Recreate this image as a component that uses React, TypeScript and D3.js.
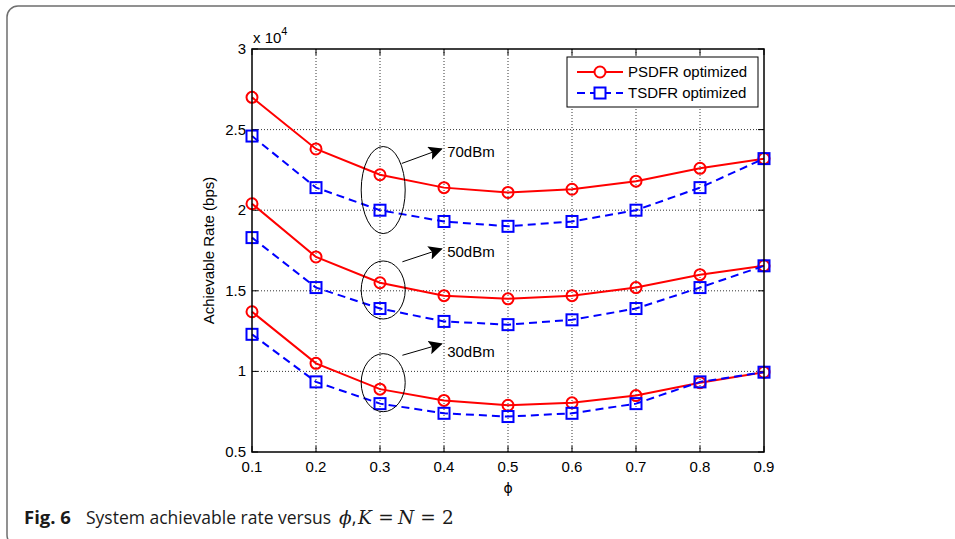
import React from "react";
import * as d3 from "d3";

const width = 955;
const height = 539;

// phi values on the x axis
const phi = [0.1, 0.2, 0.3, 0.4, 0.5, 0.6, 0.7, 0.8, 0.9];

// achievable rate, x 10^4 bps
const psdfr70 = [2.7, 2.38, 2.22, 2.14, 2.11, 2.13, 2.18, 2.26, 2.32];
const tsdfr70 = [2.46, 2.14, 2.0, 1.93, 1.9, 1.93, 2.0, 2.14, 2.32];
const psdfr50 = [2.04, 1.71, 1.55, 1.47, 1.45, 1.47, 1.52, 1.6, 1.655];
const tsdfr50 = [1.83, 1.52, 1.39, 1.31, 1.29, 1.32, 1.39, 1.52, 1.655];
const psdfr30 = [1.37, 1.05, 0.89, 0.82, 0.79, 0.805, 0.85, 0.93, 0.995];
const tsdfr30 = [1.23, 0.935, 0.8, 0.74, 0.72, 0.74, 0.8, 0.935, 0.995];

const xTicks = [0.1, 0.2, 0.3, 0.4, 0.5, 0.6, 0.7, 0.8, 0.9];
const yTicks = [0.5, 1, 1.5, 2, 2.5, 3];

// power level annotations (ellipse around the phi=0.3 points, arrow to label)
const powerLabels = ["70dBm", "50dBm", "30dBm"];
const ellipseY = [2.125, 1.505, 0.93];
const ellipseRy = [0.27, 0.18, 0.18];
const arrowFrom = [[0.334, 2.29], [0.335, 1.68], [0.335, 1.1]];
const arrowTo = [[0.396, 2.38], [0.396, 1.76], [0.396, 1.17]];
const labelAt = [[0.405, 2.36], [0.405, 1.74], [0.405, 1.12]];

// caption math part after the comma: glyph, centre x, italic
const captionMath: [string, number, boolean][] = [
  ["K", 365, true],
  ["=", 386, false],
  ["N", 406, true],
  ["=", 428, false],
  ["2", 448, false],
];

const margin = { left: 252, right: 191, top: 49, bottom: 87 };
const font = "'Liberation Sans', Arial, sans-serif";
const capFont = "'Open Sans', 'Noto Sans', sans-serif";
const mathFont = "'DejaVu Serif', serif";

const App = () => {
  const x = d3.scaleLinear().domain([0.1, 0.9]).range([margin.left, width - margin.right]);
  const y = d3.scaleLinear().domain([0.5, 3]).range([height - margin.bottom, margin.top]);
  const [x0, x1] = x.range();
  const [y0, y1] = y.range();

  const line = d3
    .line<number>()
    .x((_, i) => x(phi[i]))
    .y((d) => y(d));

  const red = "#ff0000";
  const blue = "#0000ff";
  const psdfr = [psdfr70, psdfr50, psdfr30];
  const tsdfr = [tsdfr70, tsdfr50, tsdfr30];

  return (
    <div style={{ position: "absolute", left: 0, top: 0 }}>
      <svg width={width} height={height} style={{ display: "block", background: "#fff" }}>
        <defs>
          <marker id="head" viewBox="0 0 10 10" refX="9" refY="5" markerWidth="14" markerHeight="14" markerUnits="userSpaceOnUse" orient="auto">
            <path d="M0,0 L10,5 L0,10 L2,5 z" fill="#000" />
          </marker>
        </defs>

        {/* figure frame, runs off the right and bottom edges */}
        <rect x={7} y={6} width={width + 20} height={540} rx={11} fill="none" stroke="#6e6e6e" strokeWidth={1.5} />

        {/* grid */}
        {xTicks.slice(1, -1).map((t) => (
          <line key={"gx" + t} x1={x(t)} x2={x(t)} y1={y0} y2={y1} stroke="#000" strokeWidth={0.8} strokeDasharray="1,2" />
        ))}
        {yTicks.slice(1, -1).map((t) => (
          <line key={"gy" + t} x1={x0} x2={x1} y1={y(t)} y2={y(t)} stroke="#000" strokeWidth={0.8} strokeDasharray="1,2" />
        ))}

        {/* ticks inside, on all four sides */}
        {xTicks.map((t) => (
          <g key={"tx" + t}>
            <line x1={x(t)} x2={x(t)} y1={y0} y2={y0 - 6} stroke="#000" />
            <line x1={x(t)} x2={x(t)} y1={y1} y2={y1 + 6} stroke="#000" />
            <text x={x(t)} y={y0 + 20} textAnchor="middle" fontFamily={font} fontSize={15} fill="#000">
              {t}
            </text>
          </g>
        ))}
        {yTicks.map((t) => (
          <g key={"ty" + t}>
            <line x1={x0} x2={x0 + 6} y1={y(t)} y2={y(t)} stroke="#000" />
            <line x1={x1} x2={x1 - 6} y1={y(t)} y2={y(t)} stroke="#000" />
            <text x={x0 - 6} y={y(t) + 5} textAnchor="end" fontFamily={font} fontSize={15} fill="#000">
              {t}
            </text>
          </g>
        ))}
        <text x={x0 + 1} y={43} fontFamily={font} fontSize={15} fill="#000">
          x 10
          <tspan dy={-8} fontSize={11}>4</tspan>
        </text>

        {/* series */}
        {psdfr.map((s, k) => (
          <g key={"p" + k}>
            <path d={line(s) ?? ""} fill="none" stroke={red} strokeWidth={2} />
            {s.map((v, i) => (
              <circle key={i} cx={x(phi[i])} cy={y(v)} r={5.5} fill="none" stroke={red} strokeWidth={2} />
            ))}
          </g>
        ))}
        {tsdfr.map((s, k) => (
          <g key={"t" + k}>
            <path d={line(s) ?? ""} fill="none" stroke={blue} strokeWidth={2} strokeDasharray="8,5" />
            {s.map((v, i) => (
              <rect key={i} x={x(phi[i]) - 5.5} y={y(v) - 5.5} width={11} height={11} fill="none" stroke={blue} strokeWidth={2} />
            ))}
          </g>
        ))}

        {/* annotations */}
        {powerLabels.map((lab, k) => (
          <g key={lab}>
            <ellipse
              cx={x(0.305)}
              cy={y(ellipseY[k])}
              rx={22}
              ry={y(0.5) - y(0.5 + ellipseRy[k])}
              fill="none"
              stroke="#000"
              strokeWidth={1}
            />
            <line
              x1={x(arrowFrom[k][0])}
              y1={y(arrowFrom[k][1])}
              x2={x(arrowTo[k][0])}
              y2={y(arrowTo[k][1])}
              stroke="#000"
              strokeWidth={1}
              markerEnd="url(#head)"
            />
            <text x={x(labelAt[k][0])} y={y(labelAt[k][1]) + 5} fontFamily={font} fontSize={15} fill="#000">
              {lab}
            </text>
          </g>
        ))}

        {/* axes box */}
        <rect x={x0} y={y1} width={x1 - x0} height={y0 - y1} fill="none" stroke="#000" strokeWidth={1.5} />

        {/* legend */}
        <g transform="translate(567,57)">
          <rect width={191} height={50} fill="#fff" stroke="#000" strokeWidth={1} />
          <line x1={10} x2={56} y1={15} y2={15} stroke={red} strokeWidth={2} />
          <circle cx={33} cy={15} r={5.5} fill="#fff" stroke={red} strokeWidth={2} />
          <text x={61} y={20} fontFamily={font} fontSize={15} fill="#000">PSDFR optimized</text>
          <line x1={10} x2={56} y1={36} y2={36} stroke={blue} strokeWidth={2} strokeDasharray="8,5" />
          <rect x={27.5} y={30.5} width={11} height={11} fill="#fff" stroke={blue} strokeWidth={2} />
          <text x={61} y={41} fontFamily={font} fontSize={15} fill="#000">TSDFR optimized</text>
        </g>

        {/* axis labels */}
        <text
          transform={`translate(214,${(y0 + y1) / 2}) rotate(-90)`}
          textAnchor="middle"
          fontFamily={font}
          fontSize={15}
          fill="#000"
        >
          Achievable Rate (bps)
        </text>
        <text x={(x0 + x1) / 2} y={493} textAnchor="middle" fontFamily="'DejaVu Sans', sans-serif" fontSize={14} fill="#000">
          ϕ
        </text>

        {/* caption */}
        <g fill="#1a1a1a">
          <text x={24} y={524} fontFamily={capFont} fontSize={18.5} fontWeight="bold">Fig. 6</text>
          <text x={86} y={524} fontFamily={capFont} fontSize={17.5}>
            System achievable rate versus
          </text>
          <text x={339} y={524} fontFamily={mathFont} fontSize={18.5}>
            <tspan fontStyle="italic">ϕ</tspan>
            <tspan fontFamily={capFont}>,</tspan>
          </text>
          {captionMath.map(([g, cx, it], i) => (
            <text key={i} x={cx} y={524} textAnchor="middle" fontFamily={mathFont} fontSize={18.5} fontStyle={it ? "italic" : "normal"}>
              {g}
            </text>
          ))}
        </g>
      </svg>
    </div>
  );
};

export default App;
